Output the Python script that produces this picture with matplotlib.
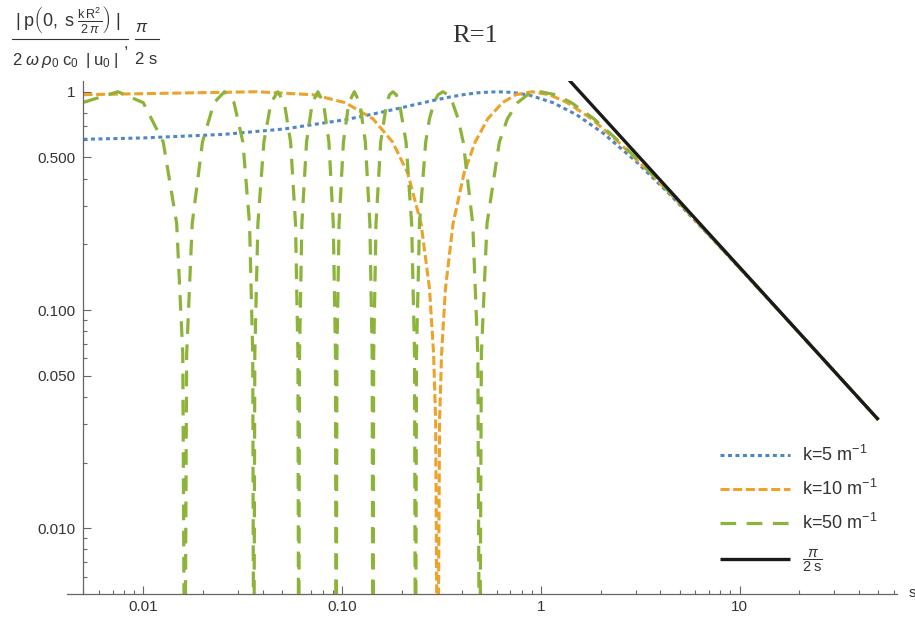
import matplotlib
matplotlib.use('Agg')
import matplotlib.pyplot as plt
from matplotlib.lines import Line2D
from matplotlib.ticker import FixedLocator, NullFormatter

# values (log-log axes)
s_k5 = [0.005, 0.010091, 0.02539, 0.051314, 0.104903, 0.161076, 0.220213, 0.282744,
        0.349213, 0.420276, 0.496742, 0.60522, 0.718886, 0.881581, 1.15154, 1.51913,
        2.06807, 3.01593, 4.40002, 7.08469, 13.0598, 26.1649, 50.0]
p_k5 = [0.6055, 0.6145, 0.6378, 0.6755, 0.7457, 0.8085, 0.8632, 0.9093,
        0.9463, 0.9738, 0.9917, 1.0, 0.99271, 0.96356, 0.89121, 0.78333,
        0.64422, 0.47943, 0.3429, 0.21823, 0.11971, 0.05996, 0.03141]

s_k10 = [0.005, 0.016622, 0.037244, 0.071811, 0.103886, 0.143014, 0.179796, 0.213568,
         0.249785, 0.275474, 0.28886, 0.295686, 0.30261, 0.309626, 0.316754, 0.331341,
         0.361871, 0.411634, 0.467083, 0.540825, 0.640938, 0.747593, 0.9013, 1.10754,
         1.35943, 1.79855, 2.46053, 3.54382, 4.98025, 9.9901, 24.996, 49.998]
p_k10 = [0.9695, 0.98769, 1.0, 0.96858, 0.891, 0.75184, 0.5878, 0.42578,
         0.2487, 0.12533, 0.0628, 0.0314, 0.001, 0.0314, 0.0628, 0.12533,
         0.2487, 0.42578, 0.5878, 0.75184, 0.891, 0.96858, 1.0, 0.96858,
         0.891, 0.75184, 0.5878, 0.42578, 0.30902, 0.15643, 0.062791, 0.031411]

s_k50 = [0.005, 0.007449, 0.009993, 0.012595, 0.01472, 0.015797, 0.016159,
         0.016521, 0.017617, 0.019839, 0.022682, 0.0256, 0.028603, 0.031691, 0.034231, 0.035524, 0.035959,
         0.036396, 0.037717, 0.040412, 0.043885, 0.047483, 0.051216, 0.055096, 0.058315, 0.059965, 0.060521,
         0.061081, 0.06278, 0.066268, 0.070811, 0.07558, 0.080596, 0.085885, 0.090335, 0.092637, 0.093418,
         0.094204, 0.096601, 0.101575, 0.108168, 0.115222, 0.122804, 0.130984, 0.13802, 0.141719, 0.14298,
         0.144257, 0.148176, 0.156463, 0.167756, 0.173428, 0.180261, 0.187503, 0.194213, 0.209902, 0.223962,
         0.231576, 0.234208,
         0.23689, 0.245254, 0.263564, 0.275355, 0.290004, 0.303981, 0.32149, 0.340898, 0.359707, 0.383676,
         0.407193, 0.454438, 0.482146, 0.492105,
         0.50246, 0.536207, 0.618677, 0.679162, 0.764112, 0.857503, 0.996052, 1.18713, 1.42575, 1.84972,
         2.49842, 3.57034, 4.9992, 9.99963, 25.0, 50.0]
p_k50 = [0.8947, 1.0, 0.891, 0.5878, 0.2487, 0.0628, 0.001,
         0.0628, 0.2487, 0.5878, 0.891, 1.0, 0.891, 0.5878, 0.2487, 0.0628, 0.001,
         0.0628, 0.2487, 0.5878, 0.891, 1.0, 0.891, 0.5878, 0.2487, 0.0628, 0.001,
         0.0628, 0.2487, 0.5878, 0.891, 1.0, 0.891, 0.5878, 0.2487, 0.0628, 0.001,
         0.0628, 0.2487, 0.5878, 0.891, 1.0, 0.891, 0.5878, 0.2487, 0.0628, 0.001,
         0.0628, 0.2487, 0.5878, 0.891, 0.96858, 1.0, 0.96858, 0.891, 0.5878, 0.2487,
         0.0628, 0.001,
         0.0628, 0.2487, 0.5878, 0.75184, 0.891, 0.96858, 1.0, 0.96858, 0.891, 0.75184,
         0.5878, 0.2487, 0.0628, 0.001,
         0.0628, 0.2487, 0.5878, 0.75184, 0.891, 0.96858, 1.0, 0.96858, 0.891, 0.75184,
         0.5878, 0.42578, 0.309, 0.1564, 0.0628, 0.0314]

# pi/(2s) reference line
s_asym = [1.0, 50.0]
p_asym = [1.5708, 0.031416]

x_major = [0.01, 0.1, 1, 10]
x_labels = ['0.01', '0.10', '1', '10']
y_major = [0.01, 0.05, 0.1, 0.5, 1]
y_labels = ['0.010', '0.050', '0.100', '0.500', '1']

legend_labels = ['k=5 m$^{-1}$', 'k=10 m$^{-1}$', 'k=50 m$^{-1}$', r'$\dfrac{\pi}{2\;\mathrm{s}}$']

TXT = '#333333'


def fig_xy(px, py):
    return px / 915, 1 - py / 621


def main():
    plt.rcParams['font.family'] = ['Liberation Sans', 'DejaVu Sans']
    plt.rcParams['mathtext.fontset'] = 'custom'
    plt.rcParams['mathtext.rm'] = 'Liberation Sans'
    plt.rcParams['mathtext.it'] = 'Liberation Sans:italic'
    plt.rcParams['mathtext.bf'] = 'Liberation Sans:bold'

    fig = plt.figure(figsize=(9.15, 6.21), dpi=100)
    ax = fig.add_axes([67 / 915, 27 / 621, 830 / 915, 513 / 621])

    l5, = ax.plot(s_k5, p_k5, color='#4f86c6', lw=2.2, linestyle=(0, (1.3, 1.15)), zorder=2)
    l10, = ax.plot(s_k10, p_k10, color='#eda22a', lw=2.2, linestyle=(0, (2.95, 1.2)), zorder=2)
    l50, = ax.plot(s_k50, p_k50, color='#8db43a', lw=2.3, linestyle=(0, (4.9, 3.3)), zorder=2)
    la, = ax.plot(s_asym, p_asym, color='#1a1a1a', lw=2.4, solid_capstyle='butt', zorder=3)

    ax.set_xscale('log')
    ax.set_yscale('log')
    ax.set_xlim(0.00413, 62)
    ax.set_ylim(0.005, 1.12)

    ax.spines['top'].set_visible(False)
    ax.spines['right'].set_visible(False)
    ax.spines['left'].set_position(('data', 0.005))
    for sp in ('left', 'bottom'):
        ax.spines[sp].set_color('#666666')
        ax.spines[sp].set_linewidth(0.9)

    ax.xaxis.set_major_locator(FixedLocator(x_major))
    ax.set_xticklabels(x_labels)
    ax.xaxis.set_minor_locator(FixedLocator([m * d for d in (0.001, 0.01, 0.1, 1, 10) for m in range(2, 10)]))
    ax.xaxis.set_minor_formatter(NullFormatter())
    ax.yaxis.set_major_locator(FixedLocator(y_major))
    ax.set_yticklabels(y_labels)
    ax.yaxis.set_minor_locator(FixedLocator([m * d for d in (0.001, 0.01, 0.1) for m in (2, 3, 4, 6, 7, 8, 9)]))
    ax.yaxis.set_minor_formatter(NullFormatter())

    ax.tick_params(which='both', direction='in', color='#666666', width=0.8, labelsize=11, labelcolor=TXT)
    ax.tick_params(which='major', length=5.5)
    ax.tick_params(which='minor', length=3)
    ax.tick_params(axis='y', which='major', pad=5.5)
    ax.tick_params(axis='x', which='major', pad=4)

    fig.text(*fig_xy(475, 36), 'R=1', family='Liberation Serif', fontsize=19,
             ha='center', va='center', color=TXT)
    fig.text(*fig_xy(912, 593), 's', fontsize=11, ha='center', va='center', color=TXT)

    # y label: |p(0, s kR^2/2pi)| / (2 w rho0 c0 |u0|), pi/(2s)
    num = r'$|\;\mathrm{p}\left(0,\;\mathrm{s}\;\frac{\mathrm{k\,R}^{2}}{2\,\pi}\right)\;|$'
    den = r'$2\;\omega\;\rho_{0}\;\mathrm{c}_{0}\;\;|\;\mathrm{u}_{0}\;|$'
    fig.text(*fig_xy(68, 19), num, fontsize=13, ha='center', va='center', color=TXT)
    fig.text(*fig_xy(65, 60), den, fontsize=12, ha='center', va='center', color=TXT)
    fig.text(*fig_xy(126, 43), ',', fontsize=12, ha='center', va='center', color=TXT)
    fig.text(*fig_xy(142, 27), r'$\pi$', fontsize=12, ha='center', va='center', color=TXT)
    fig.text(*fig_xy(146, 60), '2 s', fontsize=12, ha='center', va='center', color=TXT)
    for x0, x1 in ((12, 128), (135, 159)):
        fig.add_artist(Line2D([x0 / 915, x1 / 915], [1 - 39 / 621] * 2, color=TXT, lw=0.8))

    leg = ax.legend([l5, l10, l50, la], legend_labels,
                    loc='upper left', bbox_to_anchor=fig_xy(720, 445),
                    bbox_transform=fig.transFigure, frameon=False, fontsize=13,
                    handlelength=3.9, handletextpad=0.65, labelspacing=0.78,
                    borderpad=0, borderaxespad=0)
    for t in leg.get_texts():
        t.set_color(TXT)
    leg.get_texts()[3].set_fontsize(10.5)

    fig.savefig('out.png', dpi=100)


if __name__ == '__main__':
    main()
